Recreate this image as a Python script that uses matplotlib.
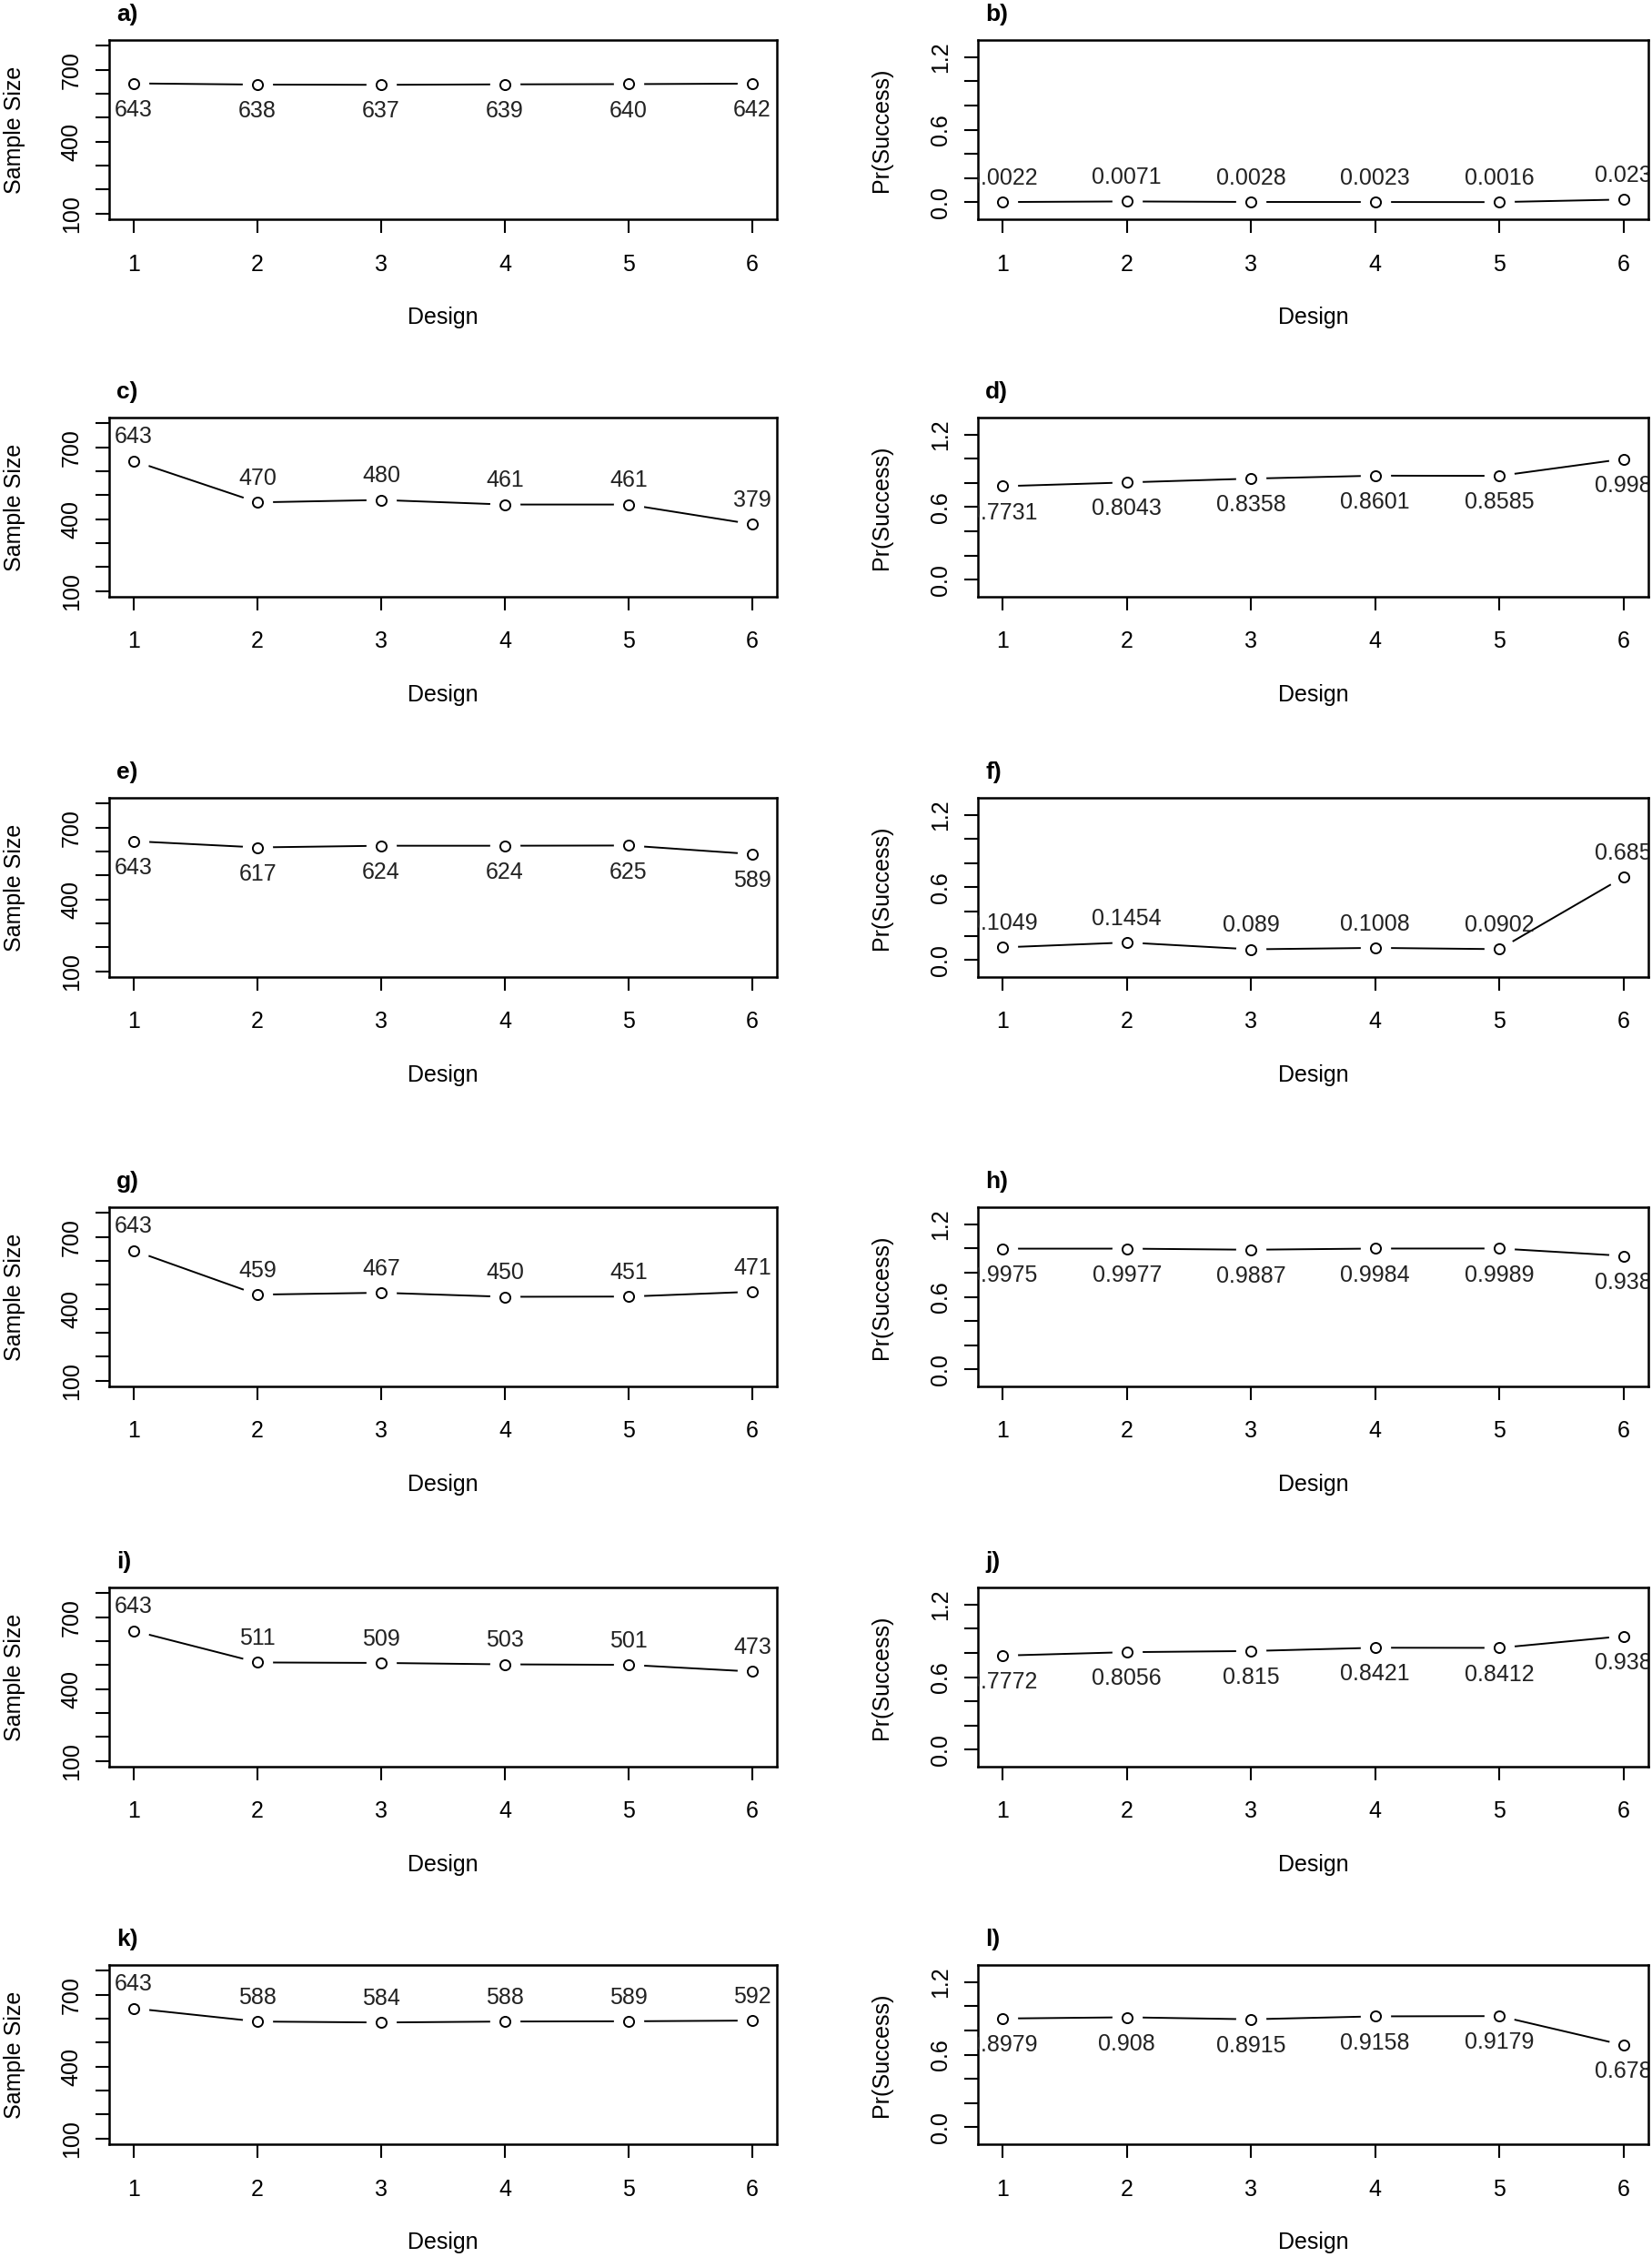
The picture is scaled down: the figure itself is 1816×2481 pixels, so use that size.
import matplotlib
matplotlib.use("Agg")
import matplotlib.pyplot as plt
import numpy as np

plt.rcParams["font.family"] = ["Liberation Sans", "DejaVu Sans"]

# data
designs = [1, 2, 3, 4, 5, 6]
panel_letters = ["a", "b", "c", "d", "e", "f", "g", "h", "i", "j", "k", "l"]

size_a = [643, 638, 637, 639, 640, 642]
prob_b = [0.0022, 0.0071, 0.0028, 0.0023, 0.0016, 0.023]
size_c = [643, 470, 480, 461, 461, 379]
prob_d = [0.7731, 0.8043, 0.8358, 0.8601, 0.8585, 0.998]
size_e = [643, 617, 624, 624, 625, 589]
prob_f = [0.1049, 0.1454, 0.089, 0.1008, 0.0902, 0.685]
size_g = [643, 459, 467, 450, 451, 471]
prob_h = [0.9975, 0.9977, 0.9887, 0.9984, 0.9989, 0.938]
size_i = [643, 511, 509, 503, 501, 473]
prob_j = [0.7772, 0.8056, 0.815, 0.8421, 0.8412, 0.938]
size_k = [643, 588, 584, 588, 589, 592]
prob_l = [0.8979, 0.908, 0.8915, 0.9158, 0.9179, 0.678]

series = [size_a, prob_b, size_c, prob_d, size_e, prob_f,
          size_g, prob_h, size_i, prob_j, size_k, prob_l]
# which panels have the value labels above the points
labels_above = [False, True, True, False, False, True,
                True, False, True, False, True, False]

size_ticks = np.arange(100, 801, 100)
size_ticklabels = ["100", "", "", "400", "", "", "700", ""]
prob_ticks = np.round(np.arange(0, 1.21, 0.2), 1)
prob_ticklabels = ["0.0", "", "", "0.6", "", "", "1.2"]

# layout in pixels
W, H = 1816, 2481
cols = [(120, 854), (1075, 1812)]
ylabel_x = [16, 969]
row_tops = [44, 459, 877, 1327, 1745, 2160]
box_h = 197

fig = plt.figure(figsize=(W / 100, H / 100), dpi=100, facecolor="white")

fs = 18
for k, vals in enumerate(series):
    r, c = divmod(k, 2)
    x0, x1 = cols[c]
    top = row_tops[r]
    ax = fig.add_axes([x0 / W, 1 - (top + box_h) / H, (x1 - x0) / W, box_h / H])

    # line with gaps round the points, like type="b"
    ax.plot(designs, vals, color="black", lw=1.4, zorder=2)
    ax.plot(designs, vals, "o", ms=24, mfc="white", mec="none", zorder=3)
    ax.plot(designs, vals, "o", ms=8, mfc="white", mec="black", mew=1.4, zorder=4)

    dy = 19 if labels_above[k] else -21
    for x, v in zip(designs, vals):
        ax.annotate(f"{v:g}", (x, v), xytext=(0, dy), textcoords="offset points",
                    ha="center", va="center", fontsize=fs, color="#222222",
                    clip_on=True, zorder=5)

    ax.set_xlim(0.8, 6.2)
    ax.set_xticks(designs)
    ax.set_xticklabels([str(d) for d in designs])
    if c == 0:
        ax.set_ylim(76, 824)
        ax.set_yticks(size_ticks)
        ax.set_yticklabels(size_ticklabels)
        ax.set_ylabel("Sample Size", fontsize=fs, va="center")
    else:
        ax.set_ylim(-0.14, 1.34)
        ax.set_yticks(prob_ticks)
        ax.set_yticklabels(prob_ticklabels)
        ax.set_ylabel("Pr(Success)", fontsize=fs, va="center")
    ax.yaxis.set_label_coords((ylabel_x[c] - x0) / (x1 - x0), 0.5)
    for lbl in ax.get_yticklabels():
        lbl.set_rotation(90)
        lbl.set_va("center")

    ax.set_xlabel("Design", fontsize=fs, va="center")
    ax.xaxis.set_label_coords(0.5, -108 / box_h)

    ax.tick_params(axis="both", direction="out", length=11, width=1.5,
                   labelsize=fs, colors="black")
    ax.tick_params(axis="x", pad=16)
    ax.tick_params(axis="y", pad=10)
    for sp in ax.spines.values():
        sp.set_linewidth(1.8)

    ax.text(8 / (x1 - x0), 1 + 28 / box_h, panel_letters[k] + ")", transform=ax.transAxes,
            ha="left", va="center", fontsize=19, fontweight="bold")

fig.savefig("out.png", dpi=100, facecolor="white")
